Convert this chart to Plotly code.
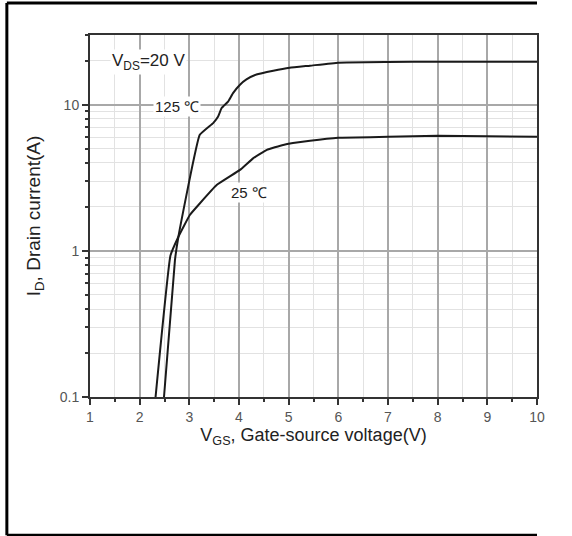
import numpy as np
import plotly.graph_objects as go

# Transfer characteristics, V_DS = 20 V
vgs_25 = [2.32, 2.62, 2.78, 3.01, 3.21, 3.55, 4.02, 4.29, 4.56, 4.89, 5.43, 6.0, 7.0, 8.0, 9.0, 10.0]
id_25 = [0.1, 0.93, 1.25, 1.76, 2.11, 2.82, 3.58, 4.31, 4.91, 5.31, 5.66, 5.94, 6.03, 6.13, 6.08, 6.03]

vgs_125 = [2.49, 2.71, 2.78, 3.21, 3.48, 3.58, 3.65, 3.78, 3.88, 4.02, 4.15, 4.35, 4.69, 5.02, 5.43, 6.0, 7.0, 8.0, 9.0, 10.0]
id_125 = [0.1, 0.86, 1.25, 6.22, 7.49, 8.31, 9.49, 10.5, 12.0, 13.7, 14.9, 16.1, 17.1, 17.9, 18.5, 19.4, 19.6, 19.7, 19.7, 19.7]

x_ticks = [1, 2, 3, 4, 5, 6, 7, 8, 9, 10]
y_ticks = [0.1, 1, 10]
y_tick_text = ["0.1", "1", "10"]
y_minor = [0.2, 0.3, 0.4, 0.5, 0.6, 0.7, 0.8, 0.9, 2, 3, 4, 5, 6, 7, 8, 9, 20, 30]

FONT = "Liberation Sans, Arial, sans-serif"
INK = "#222222"

fig = go.Figure()
for xs, ys in [(vgs_25, id_25), (vgs_125, id_125)]:
    fig.add_trace(go.Scatter(x=xs, y=ys, mode="lines",
                             line=dict(color="#1a1a1a", width=2, shape="spline", smoothing=0.3),
                             showlegend=False, hoverinfo="skip"))

fig.update_xaxes(
    range=[1, 10], tickvals=x_ticks, ticks="outside", ticklen=6, tickwidth=1.5,
    tickcolor="#333", showline=True, linecolor="#333", linewidth=2, mirror=True,
    showgrid=True, gridcolor="#a8a8a8", gridwidth=1.5, zeroline=False,
    tickfont=dict(family=FONT, size=14, color="#555"),
    minor=dict(dtick=0.5, ticks="outside", ticklen=3, tickcolor="#333",
               showgrid=True, gridcolor="#e2e2e2", gridwidth=1),
    title=dict(text="V<sub>GS</sub>, Gate-source voltage(V)",
               font=dict(family=FONT, size=18, color=INK), standoff=4),
)
fig.update_yaxes(
    type="log", range=[-1, np.log10(30)], tickvals=y_ticks, ticktext=y_tick_text,
    ticks="outside", ticklen=6, tickwidth=1.5, tickcolor="#333",
    showline=True, linecolor="#333", linewidth=2, mirror=True,
    showgrid=True, gridcolor="#a8a8a8", gridwidth=1.5, zeroline=False,
    tickfont=dict(family=FONT, size=14, color="#555"),
    minor=dict(tickvals=y_minor, ticks="outside", ticklen=3, tickcolor="#333",
               showgrid=True, gridcolor="#e2e2e2", gridwidth=1),
    title=dict(text="I<sub>D</sub>, Drain current(A)",
               font=dict(family=FONT, size=19, color=INK), standoff=14),
)

labels = [
    (1.40, 19.7, "V<sub>DS</sub>=20 V", "left", 17),
    (2.75, 9.8, "125 ℃", "center", 15),
    (4.20, 2.52, "25 ℃", "center", 15),
]
for x, y, text, anchor, size in labels:
    fig.add_annotation(x=x, y=np.log10(y), text=text, showarrow=False, xanchor=anchor,
                       font=dict(family=FONT, size=size, color=INK),
                       bgcolor="white", borderpad=1)

# outer frame lines (top, left, bottom)
frame = dict(type="line", xref="paper", yref="paper", line=dict(color="black", width=3))
fig.add_shape(x0=-0.186, x1=1.0, y0=1.0885, y1=1.0885, **frame)
fig.add_shape(x0=-0.186, x1=-0.186, y0=-0.382, y1=1.0885, **frame)
fig.add_shape(x0=-0.186, x1=1.0, y0=-0.382, y1=-0.382, **frame)

fig.update_layout(
    width=572, height=536,
    margin=dict(l=90, r=35, t=35, b=139),
    paper_bgcolor="white", plot_bgcolor="white",
)

fig.write_html("out.html")
